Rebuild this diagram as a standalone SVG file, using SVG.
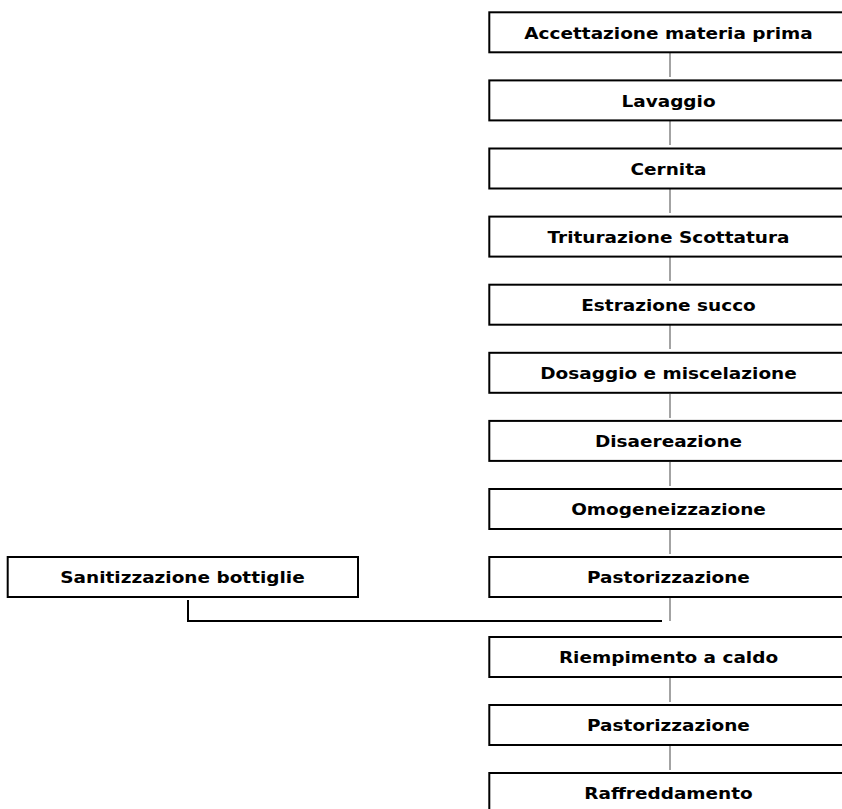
<svg xmlns="http://www.w3.org/2000/svg" width="842" height="809" viewBox="0 0 842 809">
  <style>
    .box { fill: #ffffff; stroke: #000000; stroke-width: 2; }
    .lbl { font-family: "DejaVu Sans", Verdana, sans-serif; font-weight: bold; font-size: 16.5px; fill: #000000; text-anchor: middle;
           transform-box: fill-box; transform-origin: center; transform: scaleX(1.12); }
    .link { stroke: #666666; stroke-width: 1.2; fill: none; }
    .feed { stroke: #000000; stroke-width: 2; fill: none; }
  </style>
  <rect width="842" height="809" fill="#ffffff"/>

  <!-- connectors -->
  <g id="connectors">
    <line class="link" x1="670" y1="53" x2="670" y2="77"/>
    <line class="link" x1="670" y1="121" x2="670" y2="145"/>
    <line class="link" x1="670" y1="189" x2="670" y2="213"/>
    <line class="link" x1="670" y1="257" x2="670" y2="281"/>
    <line class="link" x1="670" y1="325" x2="670" y2="349"/>
    <line class="link" x1="670" y1="394" x2="670" y2="418"/>
    <line class="link" x1="670" y1="462" x2="670" y2="486"/>
    <line class="link" x1="670" y1="530" x2="670" y2="554"/>
    <line class="link" x1="670" y1="598" x2="670" y2="621"/>
    <line class="link" x1="670" y1="678" x2="670" y2="702"/>
    <line class="link" x1="670" y1="746" x2="670" y2="770"/>
    <polyline class="feed" points="188,600 188,621 662,621"/>
  </g>

  <!-- process steps -->
  <g id="n1"><rect class="box" x="489.3" y="12.3" width="370" height="40"/><text class="lbl" x="668.5" y="38.8">Accettazione materia prima</text></g>
  <g id="n2"><rect class="box" x="489.3" y="80.4" width="370" height="40"/><text class="lbl" x="668.5" y="106.9">Lavaggio</text></g>
  <g id="n3"><rect class="box" x="489.3" y="148.5" width="370" height="40"/><text class="lbl" x="668.5" y="175">Cernita</text></g>
  <g id="n4"><rect class="box" x="489.3" y="216.6" width="370" height="40"/><text class="lbl" x="668.5" y="243.1">Triturazione Scottatura</text></g>
  <g id="n5"><rect class="box" x="489.3" y="284.7" width="370" height="40"/><text class="lbl" x="668.5" y="311.2">Estrazione succo</text></g>
  <g id="n6"><rect class="box" x="489.3" y="352.8" width="370" height="40"/><text class="lbl" x="668.5" y="379.3">Dosaggio e miscelazione</text></g>
  <g id="n7"><rect class="box" x="489.3" y="420.9" width="370" height="40"/><text class="lbl" x="668.5" y="447.4">Disaereazione</text></g>
  <g id="n8"><rect class="box" x="489.3" y="489" width="370" height="40"/><text class="lbl" x="668.5" y="515.5">Omogeneizzazione</text></g>
  <g id="n9"><rect class="box" x="489.3" y="557" width="370" height="40"/><text class="lbl" x="668.5" y="583.5">Pastorizzazione</text></g>
  <g id="n10"><rect class="box" x="489.3" y="637" width="370" height="40"/><text class="lbl" x="668.5" y="663.5">Riempimento a caldo</text></g>
  <g id="n11"><rect class="box" x="489.3" y="705" width="370" height="40"/><text class="lbl" x="668.5" y="731.5">Pastorizzazione</text></g>
  <g id="n12"><rect class="box" x="489.3" y="773" width="370" height="40"/><text class="lbl" x="668.5" y="799.5">Raffreddamento</text></g>

  <!-- bottle sanitising side step -->
  <g id="n13"><rect class="box" x="7.7" y="557" width="350.3" height="40"/><text class="lbl" x="182.5" y="583.5">Sanitizzazione bottiglie</text></g>
</svg>
